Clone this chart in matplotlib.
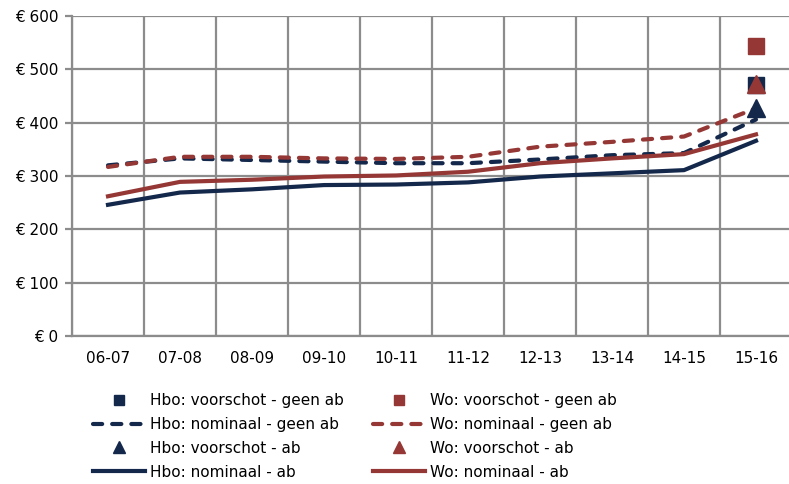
import matplotlib
matplotlib.use("Agg")
import matplotlib.pyplot as plt
from matplotlib.lines import Line2D
import numpy as np

categories = ["06-07", "07-08", "08-09", "09-10", "10-11", "11-12", "12-13", "13-14", "14-15", "15-16"]
hbo_nom_geen_ab = [320, 333, 330, 327, 324, 324, 331, 339, 343, 406]
wo_nom_geen_ab = [317, 336, 336, 333, 332, 336, 355, 364, 374, 427]
hbo_nom_ab = [246, 269, 275, 283, 284, 288, 299, 305, 311, 366]
wo_nom_ab = [262, 289, 293, 299, 301, 308, 324, 333, 341, 378]
hbo_voorschot_geen_ab = 471
wo_voorschot_geen_ab = 544
hbo_voorschot_ab = 427
wo_voorschot_ab = 473
yticks = [0, 100, 200, 300, 400, 500, 600]
ytick_labels = ["€ 0", "€ 100", "€ 200", "€ 300", "€ 400", "€ 500", "€ 600"]

navy = "#14284b"
red = "#953735"
grid_c = "#8c8c8c"

plt.rcParams['font.family'] = ['DejaVu Sans']
W, H = 789, 484
fig = plt.figure(figsize=(W/100, H/100), dpi=100)
ax = fig.add_axes([72/W, (H-336)/H, 720/W, 320/H])

x = np.arange(len(categories))
lw = 3.0
dash = (0, (2.2, 2.4))
ax.plot(x, hbo_nom_geen_ab, color=navy, lw=lw, ls=dash, dash_capstyle='round', zorder=3)
ax.plot(x, wo_nom_geen_ab, color=red, lw=lw, ls=dash, dash_capstyle='round', zorder=3)
ax.plot(x, hbo_nom_ab, color=navy, lw=lw, zorder=3)
ax.plot(x, wo_nom_ab, color=red, lw=lw, zorder=3)
last = x[-1]
ax.plot([last], [hbo_voorschot_geen_ab], marker='s', ms=12, color=navy, ls='none', zorder=4)
ax.plot([last], [wo_voorschot_geen_ab], marker='s', ms=12, color=red, ls='none', zorder=4)
ax.plot([last], [hbo_voorschot_ab], marker='^', ms=13, color=navy, ls='none', zorder=5)
ax.plot([last], [wo_voorschot_ab], marker='^', ms=13, color=red, ls='none', zorder=5)

ax.set_xlim(-0.5, len(categories) - 0.5)
ax.set_ylim(0, 600)
ax.set_yticks(yticks)
ax.set_yticklabels(ytick_labels)
ax.set_xticks(x)
ax.set_xticklabels(categories)
ax.set_xticks(np.arange(-0.5, len(categories), 1), minor=True)
ax.grid(True, which='minor', axis='x', color=grid_c, lw=1.6)
ax.grid(True, which='major', axis='y', color=grid_c, lw=1.6)
ax.tick_params(axis='x', which='both', length=0, pad=11, labelsize=11)
ax.tick_params(axis='y', length=5, width=1.6, color=grid_c, pad=5, labelsize=11)
for s in ['top', 'right']:
    ax.spines[s].set_visible(False)
for s in ['left', 'bottom']:
    ax.spines[s].set_color(grid_c)
    ax.spines[s].set_linewidth(1.6)
ax.set_axisbelow(True)

def handles(col, prefix):
    return [
        Line2D([], [], color=col, marker='s', ms=7, ls='none'),
        Line2D([], [], color=col, lw=lw, ls=dash, dash_capstyle='round'),
        Line2D([], [], color=col, marker='^', ms=8, ls='none'),
        Line2D([], [], color=col, lw=lw),
    ], [f"{prefix}: voorschot - geen ab", f"{prefix}: nominaal - geen ab",
        f"{prefix}: voorschot - ab", f"{prefix}: nominaal - ab"]

for col, prefix, xpos in [(navy, "Hbo", 93), (red, "Wo", 373)]:
    h, l = handles(col, prefix)
    fig.legend(h, l, loc='upper left', bbox_to_anchor=(xpos/W, 1 - 393/H),
               frameon=False, fontsize=11, handlelength=3.4, handletextpad=0.3,
               labelspacing=0.58, borderpad=0, borderaxespad=0)

fig.savefig("out.png", dpi=100)
